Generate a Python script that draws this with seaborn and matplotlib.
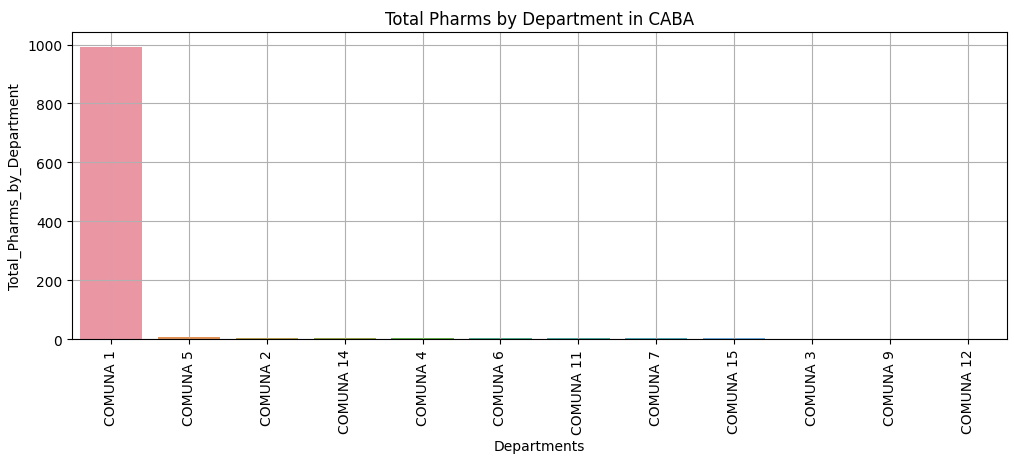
import matplotlib
matplotlib.use('Agg')
import matplotlib.pyplot as plt
import seaborn as sns
import pandas as pd

departments = ['COMUNA 1', 'COMUNA 5', 'COMUNA 2', 'COMUNA 14', 'COMUNA 4', 'COMUNA 6',
               'COMUNA 11', 'COMUNA 7', 'COMUNA 15', 'COMUNA 3', 'COMUNA 9', 'COMUNA 12']
total_pharms = [993, 7, 3, 3, 3, 3, 3, 3, 3, 1, 1, 1]

df = pd.DataFrame({'Departments': departments, 'Total_Pharms_by_Department': total_pharms})

fig, ax = plt.subplots(figsize=(10.14, 4.64), dpi=100)
# 12 categories -> husl palette with lightness .7 (old seaborn default)
sns.barplot(data=df, x='Departments', y='Total_Pharms_by_Department',
            hue='Departments', palette=sns.husl_palette(len(departments), l=.7),
            legend=False, ax=ax)
ax.set_title('Total Pharms by Department in CABA')
ax.grid(True)
plt.xticks(rotation=90)
plt.subplots_adjust(left=0.071, right=0.993, top=0.929, bottom=0.267)
plt.savefig('out.png')
